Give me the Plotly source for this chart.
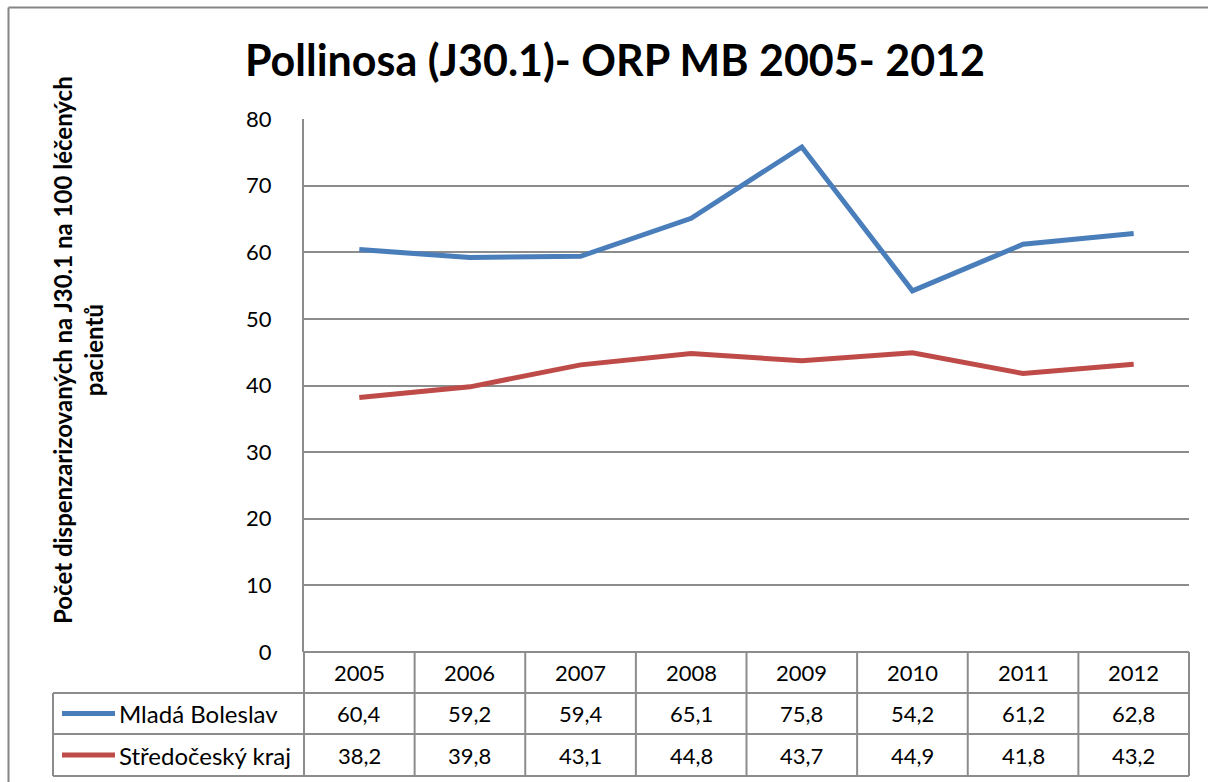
import plotly.graph_objects as go

years = ["2005", "2006", "2007", "2008", "2009", "2010", "2011", "2012"]
series_names = ["Mladá Boleslav", "Středočeský kraj"]
mlada = [60.4, 59.2, 59.4, 65.1, 75.8, 54.2, 61.2, 62.8]
stredo = [38.2, 39.8, 43.1, 44.8, 43.7, 44.9, 41.8, 43.2]
series_values = [mlada, stredo]
colors = ["#4A7EBB", "#BE4B48"]
y_ticks = [0, 10, 20, 30, 40, 50, 60, 70, 80]
title = "Pollinosa (J30.1)- ORP MB 2005- 2012"
y_title = "Počet dispenzarizovaných na J30.1 na 100 léčených<br>pacientů"

W, H = 1208, 782
L, R, T, B = 304, 1189, 119, 652
FONT = "Lato"
GRID = "#8C8C8C"

def px(x):
    return (x - L) / (R - L)

def py(y):
    return (B - y) / (B - T)

fig = go.Figure()
for name, vals, col in zip(series_names, series_values, colors):
    fig.add_trace(go.Scatter(x=years, y=vals, mode="lines", name=name,
                             line=dict(color=col, width=5), showlegend=False))

shapes = []
annotations = []
# outer chart border (top and left edges visible only)
shapes.append(dict(type="line", xref="paper", yref="paper", x0=px(8.5), x1=px(W), y0=py(7.5), y1=py(7.5),
                   line=dict(color="#868686", width=2)))
shapes.append(dict(type="line", xref="paper", yref="paper", x0=px(8.5), x1=px(8.5), y0=py(7.5), y1=py(H),
                   line=dict(color="#868686", width=2)))

# data table
ncol = len(years)
colw = (R - L) / ncol
row_edges = [652, 693, 734, 776]
legend_left = 53
shapes.append(dict(type="line", xref="paper", yref="paper", x0=px(L), x1=px(R), y0=py(row_edges[0]), y1=py(row_edges[0]),
                   line=dict(color=GRID, width=2)))
for ye in row_edges[1:]:
    shapes.append(dict(type="line", xref="paper", yref="paper", x0=px(legend_left), x1=px(R), y0=py(ye), y1=py(ye),
                       line=dict(color=GRID, width=2)))
for k in range(ncol + 1):
    xe = L + k * colw
    shapes.append(dict(type="line", xref="paper", yref="paper", x0=px(xe), x1=px(xe), y0=py(row_edges[0]), y1=py(row_edges[-1]),
                       line=dict(color=GRID, width=2)))
shapes.append(dict(type="line", xref="paper", yref="paper", x0=px(legend_left), x1=px(legend_left), y0=py(row_edges[1]), y1=py(row_edges[-1]),
                   line=dict(color=GRID, width=2)))

TABLE_FONT = dict(family=FONT, size=22, color="#000")
for k, yr in enumerate(years):
    annotations.append(dict(x=k, xref="x", y=py((row_edges[0] + row_edges[1]) / 2), yref="paper",
                            xanchor="center", yanchor="middle",
                            text=yr, showarrow=False, font=TABLE_FONT))
for r, (name, vals, col) in enumerate(zip(series_names, series_values, colors)):
    yc = (row_edges[r + 1] + row_edges[r + 2]) / 2
    for k, v in enumerate(vals):
        annotations.append(dict(x=k, xref="x", y=py(yc), yref="paper",
                                xanchor="center", yanchor="middle",
                                text=f"{v:.1f}".replace(".", ","), showarrow=False, font=TABLE_FONT))
    shapes.append(dict(type="line", xref="paper", yref="paper", x0=px(62), x1=px(115), y0=py(yc), y1=py(yc),
                       line=dict(color=col, width=5)))
    annotations.append(dict(x=px(117), xref="paper", y=py(yc), yref="paper", xanchor="left", yanchor="middle",
                            text=name, showarrow=False, font=dict(family=FONT, size=24, color="#000")))

# title
annotations.append(dict(x=px(615), xref="paper", y=py(60), yref="paper", text="<b>" + title + "</b>",
                        xanchor="center", yanchor="middle",
                        showarrow=False, font=dict(family=FONT, size=43, color="#000")))
# y-axis title
annotations.append(dict(x=px(78), xref="paper", y=py(350), yref="paper", text="<b>" + y_title + "</b>",
                        xanchor="center", yanchor="middle",
                        showarrow=False, textangle=-90, font=dict(family=FONT, size=24, color="#000")))

fig.update_layout(
    width=W, height=H,
    margin=dict(l=L, r=W - R, t=T, b=H - B),
    paper_bgcolor="white", plot_bgcolor="white",
    shapes=shapes, annotations=annotations,
    xaxis=dict(type="category", range=[-0.5, ncol - 0.5], showticklabels=False, showgrid=False,
               zeroline=False, showline=False, ticks=""),
    yaxis=dict(range=[0, 80], tickvals=y_ticks, showgrid=True, gridcolor=GRID, gridwidth=2,
               zeroline=False, showline=True, linecolor=GRID, linewidth=2, ticks="",
               tickfont=dict(family=FONT, size=22, color="#000"), ticklabelstandoff=26),
)

fig.write_html("out.html", config={"displayModeBar": False})
with open("out.html", encoding="utf-8") as f:
    html = f.read()
html = html.replace("<head>", "<head><style>html,body{margin:0;padding:0;overflow:hidden;}</style>", 1)
with open("out.html", "w", encoding="utf-8") as f:
    f.write(html)
